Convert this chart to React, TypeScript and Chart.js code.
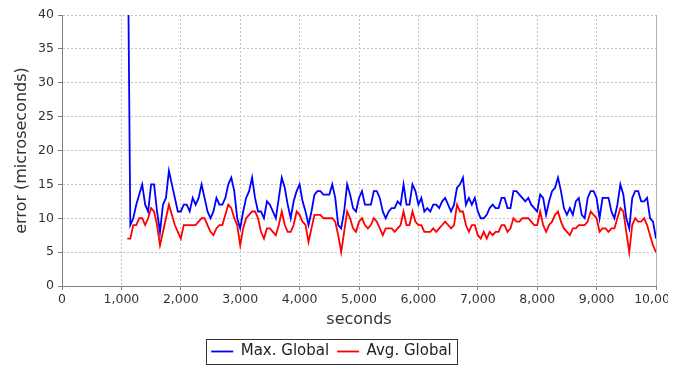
import React, { useEffect, useRef } from 'react';
import { Chart, registerables } from 'chart.js';

Chart.register(...registerables);

const START_SECONDS = 1100;
const STEP_SECONDS = 50;

const maxGlobal = [
  60, 9, 10, 12, 13.5, 15, 12, 11, 15, 15, 11, 8, 12, 13, 17, 15, 13, 11, 11, 12, 12, 11, 13, 12, 13, 15, 13, 11, 10,
  11, 13, 12, 12, 13, 15, 16, 14, 10, 8.5, 11, 13, 14, 16, 13, 11, 11, 10, 12.5, 12, 11, 10, 13, 16, 14.5, 12, 10, 12.5, 14, 15,
  12.5, 11, 9, 11, 13.5, 14, 14, 13.5, 13.5, 13.5, 15, 13, 9, 8.5, 11, 15, 13.5, 11.5, 11, 13, 14, 12, 12, 12, 14, 14, 13, 11, 10, 11, 11.5,
  11.5, 12.5, 12, 15, 12, 12, 15, 14, 12, 13, 11, 11.5, 11, 12, 12, 11.5, 12.5, 13, 12, 11, 12, 14.5, 15, 16, 12, 13, 12, 13, 11, 10,
  10, 10.5, 11.5, 12, 11.5, 11.5, 13, 13, 11.5, 11.5, 14, 14, 13.5, 13, 12.5, 13, 12, 11.5, 11, 13.5, 13, 10.5, 12.5, 14, 14.5, 16, 14, 11.5, 10.5, 11.5,
  10.5, 12.5, 13, 10.5, 10, 13, 14, 14, 13, 10, 13, 13, 13, 11, 10, 12, 15, 13.5, 10, 8.5, 13, 14, 14, 12.5, 12.5, 13, 10, 9.5, 7,
];

const avgGlobal = [
  7, 7, 9, 9, 10, 10, 9, 10, 11.5, 11, 9, 6, 8, 10, 12, 10.5, 9, 8, 7, 9, 9, 9, 9, 9, 9.5, 10, 10, 9, 8,
  7.5, 8.5, 9, 9, 10.5, 12, 11.5, 10, 9, 6, 8.5, 10, 10.5, 11, 11, 10, 8, 7, 8.5, 8.5, 8, 7.5, 9, 11, 9, 8, 8, 9, 11, 10.5,
  9.5, 9, 6.5, 8.5, 10.5, 10.5, 10.5, 10, 10, 10, 10, 9.5, 7.5, 5, 8, 11, 10, 8.5, 8, 9.5, 10, 9, 8.5, 9, 10, 9.5, 8.5, 7.5, 8.5, 8.5, 8.5,
  8, 8.5, 9, 11, 9, 9, 11, 9.5, 9, 9, 8, 8, 8, 8.5, 8, 8.5, 9, 9.5, 9, 8.5, 9, 12, 11, 11, 9, 8, 9, 9, 7.5, 7,
  8, 7, 8, 7.5, 8, 8, 9, 9, 8, 8.5, 10, 9.5, 9.5, 10, 10, 10, 9.5, 9, 9, 11, 9, 8, 9, 9.5, 10.5, 11, 9.5, 8.5, 8, 7.5,
  8.5, 8.5, 9, 9, 9, 9.5, 11, 10.5, 10, 8, 8.5, 8.5, 8, 8.5, 8.5, 10, 11.5, 11, 8, 5, 9, 10, 9.5, 9.5, 10, 9, 7.5, 6, 5,
];

const seconds = maxGlobal.map((_, i) => START_SECONDS + i * STEP_SECONDS);

const X_MIN = 0;
const X_MAX = 10000;
const X_STEP = 1000;
const Y_MIN = 0;
const Y_MAX = 40;
const Y_STEP = 5;

const seriesNames = ['Max. Global', 'Avg. Global'];
const seriesColors = ['#0000ff', '#ff0000'];

const FONT = "'DejaVu Sans', sans-serif";

const legendBorder = {
  id: 'legendBorder',
  afterDraw(chart: any) {
    const boxes = chart.legend && chart.legend.legendHitBoxes;
    if (!boxes || !boxes.length) return;
    const ctx = chart.ctx;
    const left = Math.min(...boxes.map((b: any) => b.left)) - 5;
    const right = Math.max(...boxes.map((b: any) => b.left + b.width)) + 5;
    const top = Math.min(...boxes.map((b: any) => b.top)) - 5;
    const bottom = Math.max(...boxes.map((b: any) => b.top + b.height)) + 5;
    ctx.save();
    ctx.strokeStyle = '#333333';
    ctx.lineWidth = 1;
    ctx.strokeRect(Math.round(left) + 0.5, Math.round(top) + 0.5, Math.round(right - left), Math.round(bottom - top));
    ctx.restore();
  },
};

const rightEdge = {
  id: 'rightEdge',
  afterDatasetsDraw(chart: any) {
    const { ctx, chartArea } = chart;
    ctx.save();
    ctx.strokeStyle = '#b0b0b0';
    ctx.lineWidth = 1;
    ctx.beginPath();
    ctx.moveTo(Math.round(chartArea.right) + 0.5, chartArea.top);
    ctx.lineTo(Math.round(chartArea.right) + 0.5, chartArea.bottom);
    ctx.stroke();
    ctx.restore();
  },
};

export default function App() {
  const canvasRef = useRef<HTMLCanvasElement | null>(null);

  useEffect(() => {
    const canvas = canvasRef.current;
    if (!canvas) return;
    const chart = new Chart(canvas, {
      type: 'line',
      data: {
        datasets: [
          {
            label: seriesNames[0],
            data: seconds.map((s, i) => ({ x: s, y: maxGlobal[i] })),
            borderColor: seriesColors[0],
            backgroundColor: seriesColors[0],
            borderWidth: 1.8,
            pointRadius: 0,
            tension: 0,
          },
          {
            label: seriesNames[1],
            data: seconds.map((s, i) => ({ x: s, y: avgGlobal[i] })),
            borderColor: seriesColors[1],
            backgroundColor: seriesColors[1],
            borderWidth: 1.8,
            pointRadius: 0,
            tension: 0,
          },
        ],
      },
      options: {
        animation: false,
        responsive: false,
        devicePixelRatio: 1,
        layout: { padding: { left: 7, right: 31, top: 15, bottom: 0 } },
        plugins: {
          tooltip: { enabled: false },
          legend: {
            position: 'bottom',
            labels: {
              font: { family: FONT, size: 15 },
              color: '#222222',
              usePointStyle: true,
              pointStyle: 'line',
              pointStyleWidth: 22,
              boxHeight: 12,
              padding: 8,
            },
          },
        },
        scales: {
          x: {
            type: 'linear',
            min: X_MIN,
            max: X_MAX,
            afterFit: (scale: any) => {
              scale.height = 50;
            },
            ticks: {
              stepSize: X_STEP,
              font: { family: FONT, size: 12.5 },
              color: '#333333',
              padding: 2,
              maxRotation: 0,
              autoSkip: false,
              callback: (v: any) => Number(v).toLocaleString('en-US'),
            },
            grid: {
              color: '#c4c4c4',
              tickColor: '#808080',
              tickLength: 4,
              lineWidth: 1,
            },
            border: { display: true, color: '#808080', width: 1, dash: [2, 2] },
            title: {
              display: true,
              text: 'seconds',
              font: { family: FONT, size: 16 },
              color: '#333333',
              padding: { top: 0, bottom: 7 },
            },
          },
          y: {
            min: Y_MIN,
            max: Y_MAX,
            afterFit: (scale: any) => {
              scale.width = 55;
            },
            ticks: {
              stepSize: Y_STEP,
              font: { family: FONT, size: 12.5 },
              color: '#333333',
              padding: 4,
            },
            grid: {
              color: '#c4c4c4',
              tickColor: '#808080',
              tickLength: 4,
              lineWidth: 1,
            },
            border: { display: true, color: '#808080', width: 1, dash: [2, 2] },
            title: {
              display: true,
              text: 'error (microseconds)',
              font: { family: FONT, size: 16 },
              color: '#333333',
              padding: { top: 5, bottom: 0 },
            },
          },
        },
      },
      plugins: [rightEdge, legendBorder],
    });
    return () => chart.destroy();
  }, []);

  return (
    <div style={{ position: 'absolute', left: 0, top: 0, width: 668, height: 369, overflow: 'hidden', background: '#ffffff' }}>
      <canvas ref={canvasRef} width={687} height={369} style={{ width: 687, height: 369, display: 'block' }} />
    </div>
  );
}
